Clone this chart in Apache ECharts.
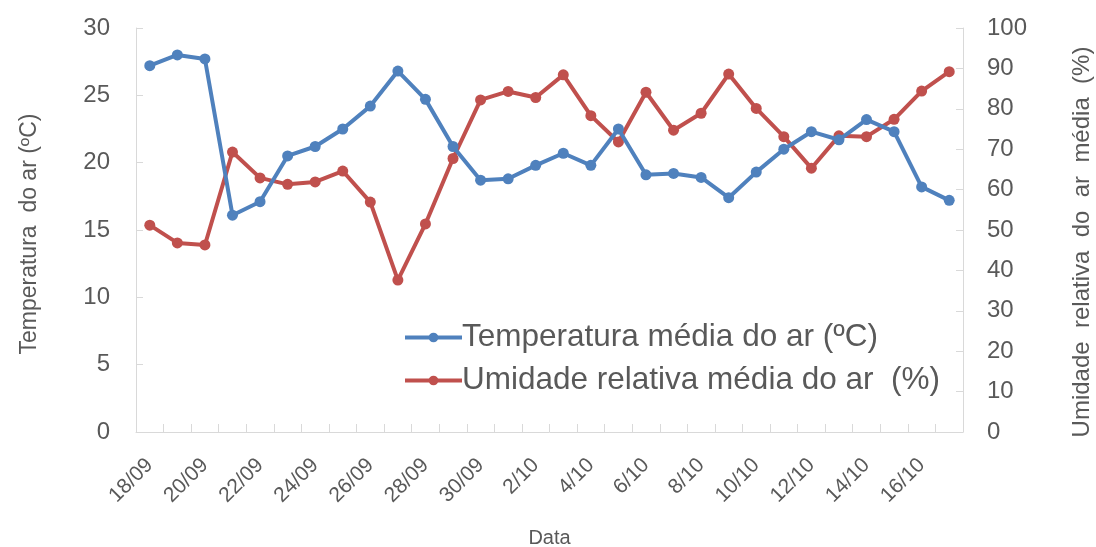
<!DOCTYPE html>
<html>
<head>
<meta charset="utf-8">
<script src="https://cdn.jsdelivr.net/npm/echarts@6/dist/echarts.min.js"></script>
<style>
  html, body { margin: 0; padding: 0; background: #ffffff; }
  #chart { width: 1096px; height: 547px; }
</style>
</head>
<body>
<div id="chart"></div>
<script>
// Daily dates, 18 Sep to 17 Oct
const dates = [
  '18/09', '19/09', '20/09', '21/09', '22/09', '23/09', '24/09', '25/09', '26/09', '27/09',
  '28/09', '29/09', '30/09', '1/10', '2/10', '3/10', '4/10', '5/10', '6/10', '7/10',
  '8/10', '9/10', '10/10', '11/10', '12/10', '13/10', '14/10', '15/10', '16/10', '17/10'
];

// Mean air temperature (ºC)
const temperatura = [
  27.2, 28.0, 27.7, 16.1, 17.1, 20.5, 21.2, 22.5, 24.2, 26.8,
  24.7, 21.2, 18.7, 18.8, 19.8, 20.7, 19.8, 22.5, 19.1, 19.2,
  18.9, 17.4, 19.3, 21.0, 22.3, 21.7, 23.2, 22.3, 18.2, 17.2
];

// Mean relative air humidity (%)
const umidade = [
  51.2, 46.8, 46.3, 69.3, 62.9, 61.3, 61.9, 64.6, 56.9, 37.6,
  51.5, 67.7, 82.2, 84.3, 82.8, 88.4, 78.3, 71.8, 84.1, 74.7,
  78.9, 88.6, 80.1, 73.1, 65.3, 73.3, 73.1, 77.4, 84.4, 89.2
];

const tempTicks = { min: 0, max: 30, interval: 5 };
const umidTicks = { min: 0, max: 100, interval: 10 };

const nomeTemp = 'Temperatura média do ar (ºC)';
const nomeUmid = 'Umidade relativa média do ar  (%)';

const azul = '#4F81BD';
const vermelho = '#C0504D';
const txt = '#595959';
const eixo = '#d9d9d9';
const font = 'Liberation Sans, Arial, sans-serif';

const chart = echarts.init(document.getElementById('chart'), null, { renderer: 'canvas' });

chart.setOption({
  backgroundColor: '#ffffff',
  animation: false,
  grid: { left: 136, right: 133, top: 28, bottom: 115, containLabel: false, outerBoundsMode: 'none' },
  legend: {
    orient: 'vertical',
    left: 398,
    top: 316,
    itemWidth: 57,
    itemHeight: 12,
    itemGap: 10,
    lineStyle: { width: 4 },
    textStyle: { color: txt, fontSize: 31.5, fontFamily: font, lineHeight: 33, padding: [0, 0, 0, -5] },
    data: [
      { name: nomeTemp, itemStyle: { color: azul }, lineStyle: { color: azul, width: 4 } },
      { name: nomeUmid, itemStyle: { color: vermelho }, lineStyle: { color: vermelho, width: 4 } }
    ]
  },
  xAxis: {
    type: 'category',
    data: dates,
    boundaryGap: true,
    name: 'Data',
    nameLocation: 'middle',
    nameGap: 96,
    nameTextStyle: { color: txt, fontSize: 20, fontFamily: font },
    axisLine: { show: true, lineStyle: { color: eixo, width: 1 } },
    axisTick: { show: true, inside: true, length: 8, interval: 0, lineStyle: { color: eixo } },
    axisLabel: {
      interval: 1,
      rotate: 45,
      margin: 30,
      color: txt,
      fontSize: 21,
      fontFamily: font
    },
    splitLine: { show: false }
  },
  yAxis: [
    {
      type: 'value',
      position: 'left',
      min: tempTicks.min,
      max: tempTicks.max,
      interval: tempTicks.interval,
      name: 'Temperatura  do ar (ºC)',
      nameLocation: 'middle',
      nameRotate: 90,
      nameGap: 95,
      nameTextStyle: { color: txt, fontSize: 23, fontFamily: font, padding: [0, 8, 0, 0] },
      axisLine: { show: true, lineStyle: { color: eixo, width: 1 } },
      axisTick: { show: true, inside: true, length: 7, lineStyle: { color: eixo } },
      axisLabel: { color: txt, fontSize: 24, fontFamily: font, margin: 26 },
      splitLine: { show: false }
    },
    {
      type: 'value',
      position: 'right',
      min: umidTicks.min,
      max: umidTicks.max,
      interval: umidTicks.interval,
      name: 'Umidade  relativa  do  ar  média  (%)',
      nameLocation: 'middle',
      nameRotate: 90,
      nameGap: 107,
      nameTextStyle: { color: txt, fontSize: 24, fontFamily: font, padding: [0, 24, 0, 0] },
      axisLine: { show: true, lineStyle: { color: eixo, width: 1 } },
      axisTick: { show: true, inside: true, length: 7, lineStyle: { color: eixo } },
      axisLabel: { color: txt, fontSize: 24, fontFamily: font, margin: 24 },
      splitLine: { show: false }
    }
  ],
  series: [
    {
      name: nomeTemp,
      type: 'line',
      yAxisIndex: 0,
      data: temperatura,
      symbol: 'circle',
      symbolSize: 11,
      itemStyle: { color: azul },
      lineStyle: { color: azul, width: 4 },
      z: 3
    },
    {
      name: nomeUmid,
      type: 'line',
      yAxisIndex: 1,
      data: umidade,
      symbol: 'circle',
      symbolSize: 11,
      itemStyle: { color: vermelho },
      lineStyle: { color: vermelho, width: 4 },
      z: 2
    }
  ]
});
</script>
</body>
</html>
